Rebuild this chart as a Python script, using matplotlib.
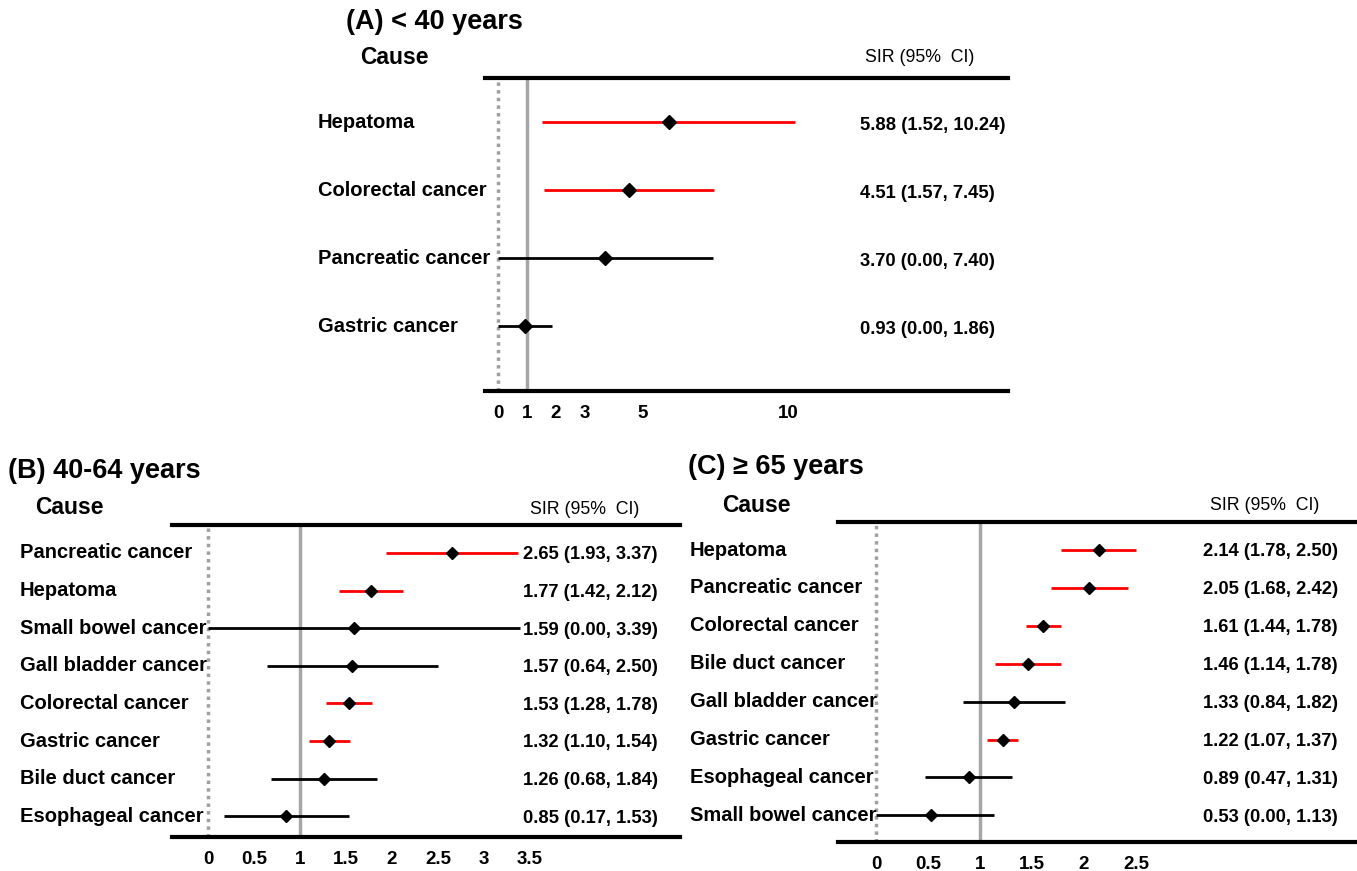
import matplotlib.pyplot as plt
from matplotlib.transforms import blended_transform_factory

plt.rcParams['font.family'] = ['Liberation Sans', 'DejaVu Sans']

W, H = 1357, 871

# (A) < 40 years
causes_a = ["Hepatoma", "Colorectal cancer", "Pancreatic cancer", "Gastric cancer"]
sir_a = [5.88, 4.51, 3.70, 0.93]
lo_a = [1.52, 1.57, 0.00, 0.00]
hi_a = [10.24, 7.45, 7.40, 1.86]
ticks_a = [0, 1, 2, 3, 5, 10]
ticklabels_a = ["0", "1", "2", "3", "5", "10"]

# (B) 40-64 years
causes_b = ["Pancreatic cancer", "Hepatoma", "Small bowel cancer", "Gall bladder cancer",
            "Colorectal cancer", "Gastric cancer", "Bile duct cancer", "Esophageal cancer"]
sir_b = [2.65, 1.77, 1.59, 1.57, 1.53, 1.32, 1.26, 0.85]
lo_b = [1.93, 1.42, 0.00, 0.64, 1.28, 1.10, 0.68, 0.17]
hi_b = [3.37, 2.12, 3.39, 2.50, 1.78, 1.54, 1.84, 1.53]
ticks_b = [0, 0.5, 1, 1.5, 2, 2.5, 3, 3.5]
ticklabels_b = ["0", "0.5", "1", "1.5", "2", "2.5", "3", "3.5"]

# (C) >= 65 years
causes_c = ["Hepatoma", "Pancreatic cancer", "Colorectal cancer", "Bile duct cancer",
            "Gall bladder cancer", "Gastric cancer", "Esophageal cancer", "Small bowel cancer"]
sir_c = [2.14, 2.05, 1.61, 1.46, 1.33, 1.22, 0.89, 0.53]
lo_c = [1.78, 1.68, 1.44, 1.14, 0.84, 1.07, 0.47, 0.00]
hi_c = [2.50, 2.42, 1.78, 1.78, 1.82, 1.37, 1.31, 1.13]
ticks_c = [0, 0.5, 1, 1.5, 2, 2.5]
ticklabels_c = ["0", "0.5", "1", "1.5", "2", "2.5"]

fig = plt.figure(figsize=(W / 100, H / 100), dpi=100)


def forest(title, causes, sir, lo, hi, ticks, ticklabels, box, zero_px, unit_px,
           row0_px, row_px, label_px, value_px, title_xy, cause_xy, sir_xy, ms):
    x0, x1, y0, y1 = box
    ax = fig.add_axes([x0 / W, 1 - y1 / H, (x1 - x0) / W, (y1 - y0) / H])
    ax.set_xlim((x0 - zero_px) / unit_px, (x1 - zero_px) / unit_px)
    ax.set_ylim((y1 - row0_px) / row_px, (y0 - row0_px) / row_px)

    ax.axvline(0, color="#a0a0a0", lw=2.5, ls=(0, (1, 1.2)), zorder=1)
    ax.axvline(1, color="#a6a6a6", lw=2.5, zorder=1)

    trans = blended_transform_factory(fig.transFigure, ax.transData)
    for i, name in enumerate(causes):
        color = "red" if lo[i] > 1 else "black"
        ax.hlines(i, lo[i], hi[i], color=color, lw=2, zorder=2)
        ax.plot(sir[i], i, "D", color="black", ms=ms, zorder=3)
        ax.text(label_px / W, i, name, transform=trans, ha="left", va="center",
                fontsize=14.5, fontweight="bold")
        ax.text(value_px / W, i + 0.05, f"{sir[i]:.2f} ({lo[i]:.2f}, {hi[i]:.2f})",
                transform=trans, ha="left", va="center",
                fontsize=13.2, fontweight="bold")

    for side in ["left", "right"]:
        ax.spines[side].set_visible(False)
    for side in ["top", "bottom"]:
        ax.spines[side].set_linewidth(3)
    ax.set_yticks([])
    ax.set_xticks(ticks)
    ax.set_xticklabels(ticklabels, fontsize=13.5, fontweight="bold")
    ax.tick_params(axis="x", length=0, pad=10)

    fig.text(title_xy[0] / W, 1 - title_xy[1] / H, title, fontsize=19.5,
             fontweight="bold", ha="left", va="center")
    fig.text(cause_xy[0] / W, 1 - cause_xy[1] / H, "Cause", fontsize=16.5,
             fontweight="bold", ha="left", va="center")
    fig.text(sir_xy[0] / W, 1 - sir_xy[1] / H, "SIR (95%  CI)", fontsize=12.8,
             ha="left", va="center")
    return ax


forest("(A) < 40 years", causes_a, sir_a, lo_a, hi_a, ticks_a, ticklabels_a,
       box=(485, 1008, 78, 391), zero_px=498, unit_px=29,
       row0_px=122, row_px=68, label_px=318, value_px=860,
       title_xy=(346, 22), cause_xy=(360, 58), sir_xy=(865, 57), ms=7.5)

forest("(B) 40-64 years", causes_b, sir_b, lo_b, hi_b, ticks_b, ticklabels_b,
       box=(172, 680, 525, 837), zero_px=208, unit_px=92,
       row0_px=553, row_px=37.6, label_px=20, value_px=523,
       title_xy=(8, 471), cause_xy=(35, 508), sir_xy=(530, 509), ms=6)

forest("(C) \u2265 65 years", causes_c, sir_c, lo_c, hi_c, ticks_c, ticklabels_c,
       box=(838, 1357, 522, 842), zero_px=876, unit_px=104,
       row0_px=550, row_px=37.9, label_px=690, value_px=1203,
       title_xy=(688, 467), cause_xy=(722, 505), sir_xy=(1210, 505), ms=6)

fig.savefig("out.png", dpi=100)
